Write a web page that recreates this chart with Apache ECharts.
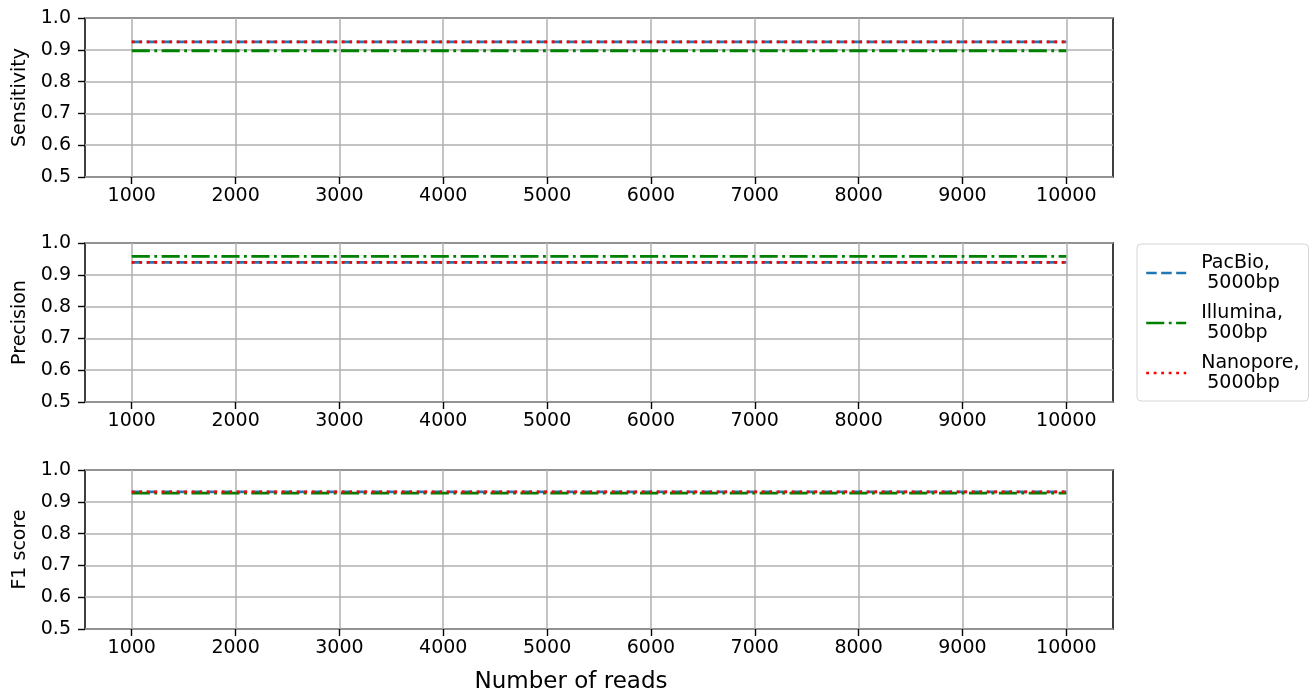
<!DOCTYPE html>
<html>
<head>
<meta charset="utf-8">
<script src="https://cdn.jsdelivr.net/npm/echarts@6/dist/echarts.min.js"></script>
<style>
  html, body { margin: 0; padding: 0; background: #fff; }
  #chart { width: 1315px; height: 695px; }
</style>
</head>
<body>
<div id="chart"></div>
<script>
// data
const reads = [1000, 2000, 3000, 4000, 5000, 6000, 7000, 8000, 9000, 10000]
const xTicks = [1000, 2000, 3000, 4000, 5000, 6000, 7000, 8000, 9000, 10000]
const yTicks = [0.5, 0.6, 0.7, 0.8, 0.9, 1.0]
const panelNames = ['Sensitivity', 'Precision', 'F1 score']
const seriesNames = ['PacBio,\n 5000bp', 'Illumina,\n 500bp', 'Nanopore,\n 5000bp']

const sensPacBio = [0.925, 0.925, 0.925, 0.925, 0.925, 0.925, 0.925, 0.925, 0.925, 0.925]
const sensIllumina = [0.897, 0.897, 0.897, 0.897, 0.897, 0.897, 0.897, 0.897, 0.897, 0.897]
const sensNanopore = [0.925, 0.925, 0.925, 0.925, 0.925, 0.925, 0.925, 0.925, 0.925, 0.925]

const precPacBio = [0.939, 0.939, 0.939, 0.939, 0.939, 0.939, 0.939, 0.939, 0.939, 0.939]
const precIllumina = [0.958, 0.958, 0.958, 0.958, 0.958, 0.958, 0.958, 0.958, 0.958, 0.958]
const precNanopore = [0.939, 0.939, 0.939, 0.939, 0.939, 0.939, 0.939, 0.939, 0.939, 0.939]

const f1PacBio = [0.9315, 0.9315, 0.9315, 0.9315, 0.9315, 0.9315, 0.9315, 0.9315, 0.9315, 0.9315]
const f1Illumina = [0.9275, 0.9275, 0.9275, 0.9275, 0.9275, 0.9275, 0.9275, 0.9275, 0.9275, 0.9275]
const f1Nanopore = [0.9315, 0.9315, 0.9315, 0.9315, 0.9315, 0.9315, 0.9315, 0.9315, 0.9315, 0.9315]

const panels = [
  [sensPacBio, sensIllumina, sensNanopore],
  [precPacBio, precIllumina, precNanopore],
  [f1PacBio, f1Illumina, f1Nanopore]
]

const font = 'DejaVu Sans'
const colors = ['#1f77b4', '#008000', '#ff0000']
const dashes = [[10.5, 4.5], [18.1, 4.5, 2.8, 4.5], [2.8, 4.7]]
const gridTops = [18, 243, 470]

function buildGrids () {
  return gridTops.map(top => ({
    left: 85,
    top: top,
    width: 1028,
    height: 159,
    show: true,
    borderColor: '#000',
    borderWidth: 1.5,
    backgroundColor: '#fff'
  }))
}

function buildXAxes () {
  return gridTops.map((t, i) => ({
    gridIndex: i,
    type: 'value',
    min: 550,
    max: 10450,
    axisLine: { show: false },
    axisTick: {
      show: true,
      length: 7,
      customValues: xTicks,
      lineStyle: { color: '#000', width: 1.4 }
    },
    axisLabel: {
      customValues: xTicks,
      fontSize: 19,
      fontFamily: font,
      color: '#000',
      margin: 10,
      formatter: v => String(v)
    },
    splitLine: { show: true, lineStyle: { color: '#b0b0b0', width: 1.5 } }
  }))
}

function buildYAxes () {
  return panelNames.map((name, i) => ({
    gridIndex: i,
    type: 'value',
    min: yTicks[0],
    max: yTicks[yTicks.length - 1],
    interval: 0.1,
    name: name,
    nameLocation: 'middle',
    nameGap: 53,
    nameTextStyle: { fontSize: 19, fontFamily: font, color: '#000' },
    axisLine: { show: false },
    axisTick: { show: true, length: 7, lineStyle: { color: '#000', width: 1.4 } },
    axisLabel: {
      fontSize: 19,
      fontFamily: font,
      color: '#000',
      margin: 14,
      formatter: v => v.toFixed(1)
    },
    splitLine: { show: true, lineStyle: { color: '#b0b0b0', width: 1.5 } }
  }))
}

function buildSeries () {
  const list = []
  panels.forEach((group, i) => {
    group.forEach((values, k) => {
      list.push({
        name: seriesNames[k],
        type: 'line',
        xAxisIndex: i,
        yAxisIndex: i,
        showSymbol: false,
        symbol: 'none',
        silent: true,
        animation: false,
        data: reads.map((x, j) => [x, values[j]]),
        itemStyle: { color: colors[k] },
        lineStyle: { color: colors[k], width: 2.8, type: dashes[k], cap: 'butt' }
      })
    })
  })
  return list
}

const chart = echarts.init(document.getElementById('chart'))
chart.setOption({
  animation: false,
  backgroundColor: '#fff',
  grid: buildGrids(),
  xAxis: buildXAxes(),
  yAxis: buildYAxes(),
  legend: {
    orient: 'vertical',
    left: 1137,
    top: 244,
    padding: [9, 9, 8, 8],
    itemWidth: 40,
    itemHeight: 14,
    itemGap: 10,
    selectedMode: false,
    borderColor: '#d6d6d6',
    borderWidth: 1,
    borderRadius: 4,
    data: seriesNames,
    itemStyle: { opacity: 0 },
    lineStyle: { width: 2.4 },
    textStyle: {
      fontSize: 19,
      fontFamily: font,
      color: '#000',
      lineHeight: 20,
      padding: [0, 0, 0, 10]
    }
  },
  graphic: [{
    type: 'text',
    x: 571,
    y: 682,
    style: {
      text: 'Number of reads',
      font: '23px DejaVu Sans',
      fill: '#000',
      textAlign: 'center',
      textVerticalAlign: 'middle'
    }
  }],
  series: buildSeries()
})

window.onresize = () => {
  chart.resize()
}
</script>
</body>
</html>
